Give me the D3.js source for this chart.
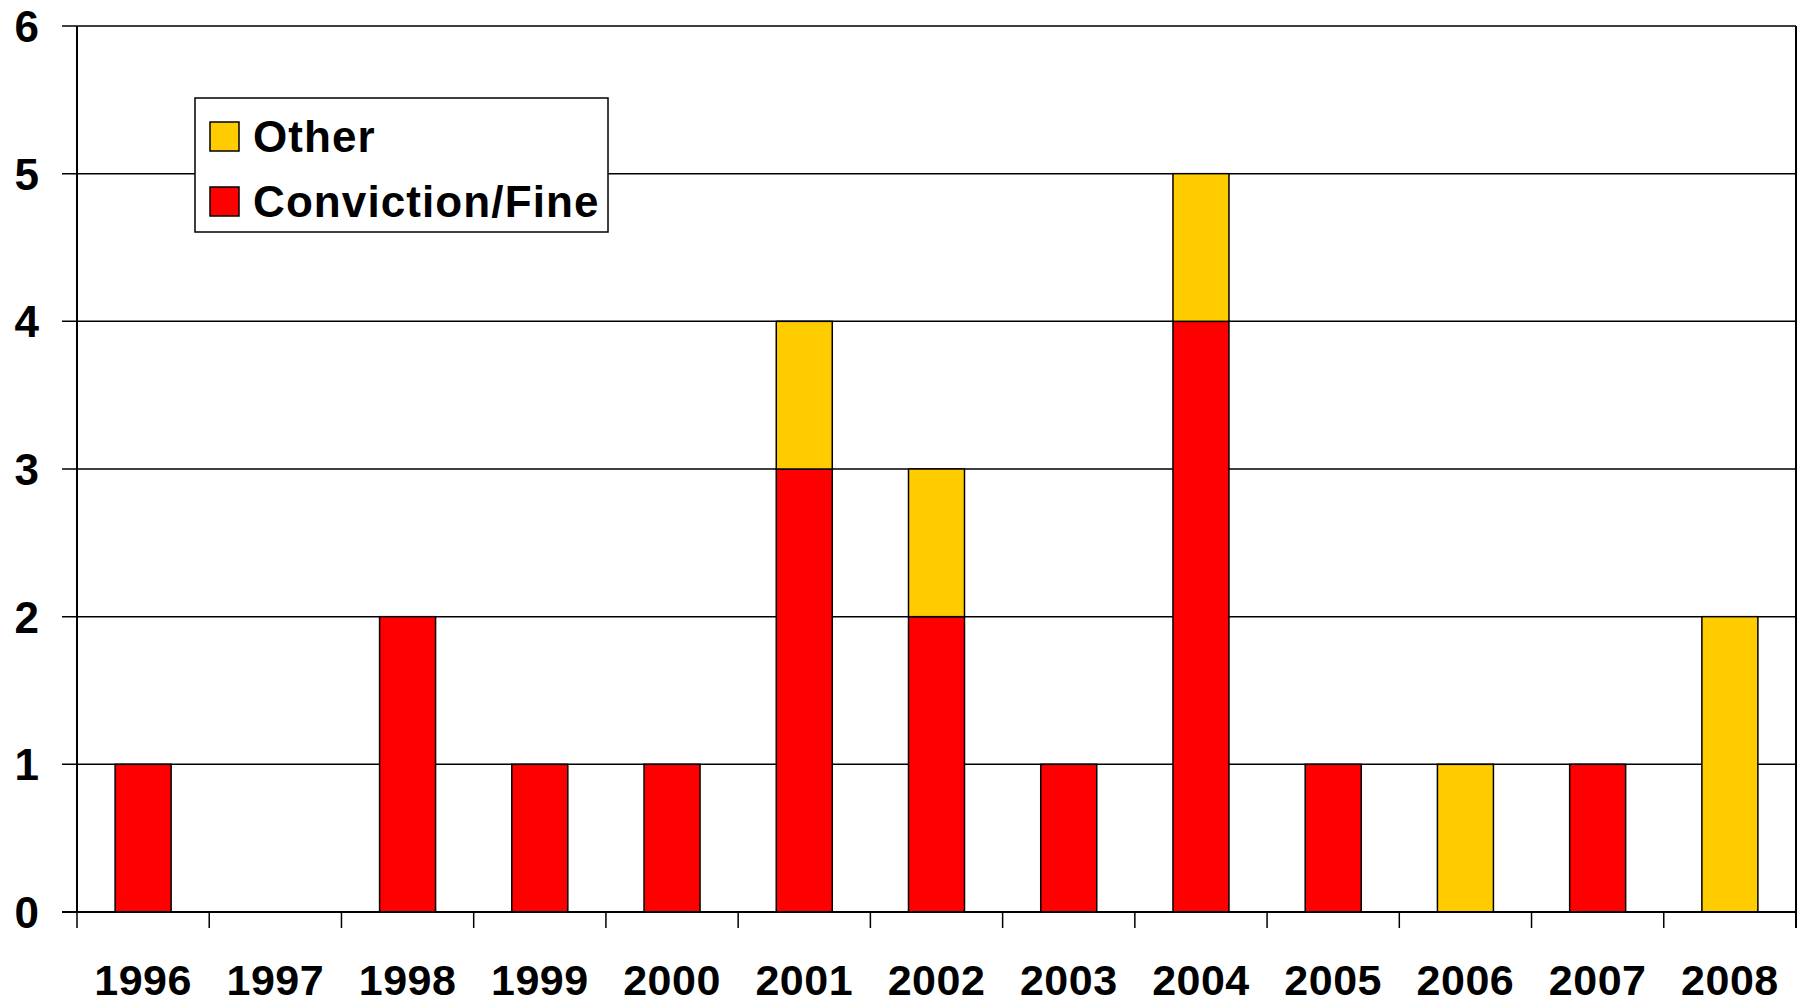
<!DOCTYPE html>
<html>
<head>
<meta charset="utf-8">
<script src="https://cdn.jsdelivr.net/npm/d3@7"></script>
<style>
  html, body { margin: 0; padding: 0; background: #fff; }
  svg { display: block; font-family: Arial, "Liberation Sans", sans-serif; }
</style>
</head>
<body>
<div id="chart"></div>
<script>
const years = ['1996', '1997', '1998', '1999', '2000', '2001', '2002', '2003', '2004', '2005', '2006', '2007', '2008']
const convictionFine = [1, 0, 2, 1, 1, 3, 2, 1, 4, 1, 0, 1, 0]
const other = [0, 0, 0, 0, 0, 1, 1, 0, 1, 0, 1, 0, 2]
const yTicks = [0, 1, 2, 3, 4, 5, 6]
const seriesNames = ['Other', 'Conviction/Fine']
const seriesColors = { 'Conviction/Fine': '#ff0000', 'Other': '#ffcc00' }

const width = 1801
const height = 1003
const margin = { top: 26, right: 5, bottom: 91, left: 77 }
const innerW = width - margin.left - margin.right
const innerH = height - margin.top - margin.bottom

const svg = d3.select('#chart').append('svg')
  .attr('width', width)
  .attr('height', height)

const g = svg.append('g')
  .attr('transform', `translate(${margin.left}, ${margin.top})`)

const pad = 0.5765
const x = d3.scaleBand()
  .domain(years)
  .range([0, innerW])
  .paddingInner(pad)
  .paddingOuter(pad / 2)

const y = d3.scaleLinear()
  .domain([0, 6])
  .range([innerH, 0])

// gridlines + left ticks
g.append('g')
  .selectAll('line')
  .data(yTicks)
  .join('line')
  .attr('x1', -15)
  .attr('x2', innerW)
  .attr('y1', d => y(d))
  .attr('y2', d => y(d))
  .attr('stroke', '#000')
  .attr('stroke-width', 1.5)

g.append('g')
  .selectAll('text')
  .data(yTicks)
  .join('text')
  .attr('x', -38)
  .attr('y', d => y(d))
  .attr('dy', '0.36em')
  .attr('text-anchor', 'end')
  .style('font-size', '44px')
  .style('font-weight', 'bold')
  .text(d => d)

// stacked bars
const rows = years.map((yr, i) => ({ year: yr, 'Conviction/Fine': convictionFine[i], 'Other': other[i] }))
const stack = d3.stack().keys(['Conviction/Fine', 'Other'])(rows)

g.append('g')
  .selectAll('g')
  .data(stack)
  .join('g')
  .attr('fill', d => seriesColors[d.key])
  .selectAll('rect')
  .data(d => d.filter(p => p[1] > p[0]))
  .join('rect')
  .attr('x', d => x(d.data.year))
  .attr('width', x.bandwidth())
  .attr('y', d => y(d[1]))
  .attr('height', d => y(d[0]) - y(d[1]))
  .attr('stroke', '#000')
  .attr('stroke-width', 1.5)

// axes frame
g.append('line')
  .attr('x1', 0).attr('x2', 0)
  .attr('y1', 0).attr('y2', innerH)
  .attr('stroke', '#000').attr('stroke-width', 2)
g.append('line')
  .attr('x1', innerW).attr('x2', innerW)
  .attr('y1', 0).attr('y2', innerH + 16)
  .attr('stroke', '#000').attr('stroke-width', 2)
g.append('line')
  .attr('x1', -15).attr('x2', innerW)
  .attr('y1', innerH).attr('y2', innerH)
  .attr('stroke', '#000').attr('stroke-width', 2)

// x boundary ticks
const step = x.step()
g.append('g')
  .selectAll('line')
  .data(years)
  .join('line')
  .attr('x1', d => x(d) - step * pad / 2)
  .attr('x2', d => x(d) - step * pad / 2)
  .attr('y1', innerH)
  .attr('y2', innerH + 16)
  .attr('stroke', '#000')
  .attr('stroke-width', 1.5)

g.append('g')
  .selectAll('text')
  .data(years)
  .join('text')
  .attr('x', d => x(d) + x.bandwidth() / 2)
  .attr('y', innerH + 83)
  .attr('text-anchor', 'middle')
  .style('font-size', '43px')
  .style('font-weight', 'bold')
  .style('letter-spacing', '0.5px')
  .text(d => d)

// legend
const legend = svg.append('g')
  .attr('transform', 'translate(195, 98)')

legend.append('rect')
  .attr('width', 413)
  .attr('height', 134)
  .attr('fill', '#fff')
  .attr('stroke', '#000')
  .attr('stroke-width', 1.5)

legend.selectAll('g')
  .data(seriesNames)
  .join('g')
  .attr('transform', (d, i) => `translate(15, ${24 + i * 65})`)
  .each(function (name) {
    const item = d3.select(this)
    item.append('rect')
      .attr('width', 29)
      .attr('height', 29)
      .attr('fill', seriesColors[name])
      .attr('stroke', '#000')
      .attr('stroke-width', 1.5)
    item.append('text')
      .attr('x', 43)
      .attr('y', 30)
      .style('font-size', '44px')
      .style('font-weight', 'bold')
      .style('letter-spacing', '1.1px')
      .text(name)
  })
</script>
</body>
</html>
